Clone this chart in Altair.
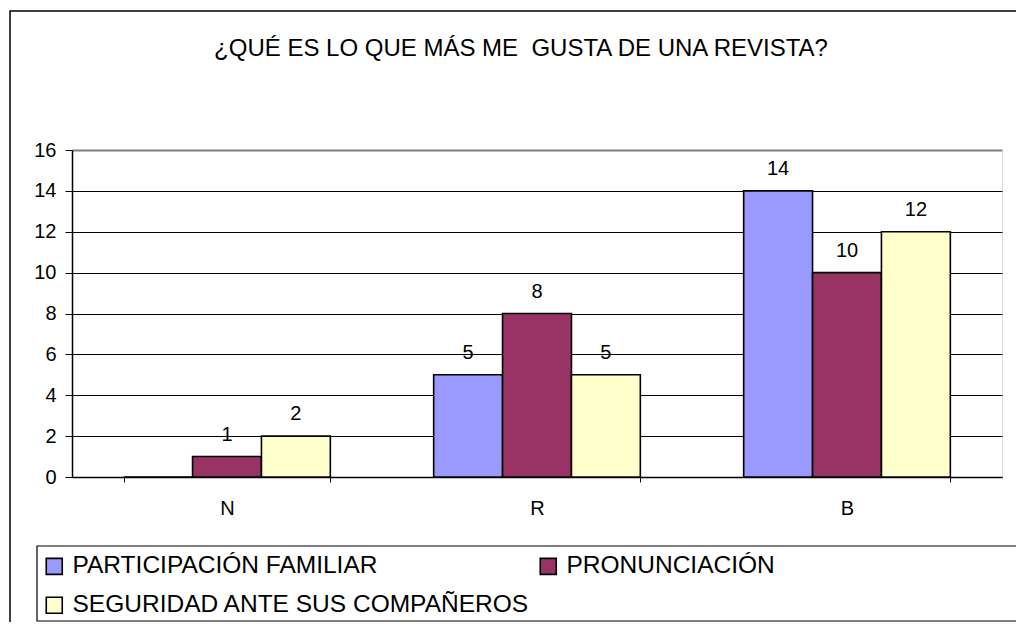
import altair as alt
import pandas as pd

categories = ["N", "R", "B"]
series = ["PARTICIPACIÓN FAMILIAR", "PRONUNCIACIÓN", "SEGURIDAD ANTE SUS COMPAÑEROS"]
participacion = [0, 5, 14]
pronunciacion = [1, 8, 10]
seguridad = [2, 5, 12]
colors = ["#9999FF", "#993366", "#FFFFCC"]
title_text = "¿QUÉ ES LO QUE MÁS ME \u00a0GUSTA DE UNA REVISTA?"

rows = []
for i, c in enumerate(categories):
    for s, vals in zip(series, [participacion, pronunciacion, seguridad]):
        rows.append({"cat": c, "serie": s, "valor": vals[i]})
df = pd.DataFrame(rows)

FONT = "Liberation Sans"
W, H = 930, 327

x_enc = alt.X("cat:N", sort=categories,
              scale=alt.Scale(paddingInner=1/3, paddingOuter=1/6),
              axis=alt.Axis(title=None, labelFontSize=20, labelFont=FONT, labelColor="black",
                            labelAngle=0, tickBand="extent", tickSize=5, tickColor="black",
                            domainColor="black", domainWidth=1.5, labelPadding=16, grid=False))
xo_enc = alt.XOffset("serie:N", sort=series, scale=alt.Scale(paddingInner=0, paddingOuter=0))
y_enc = alt.Y("valor:Q", scale=alt.Scale(domain=[0, 16], nice=False),
              axis=alt.Axis(title=None, values=list(range(0, 17, 2)), labelFontSize=20,
                            labelFont=FONT, labelColor="black", tickSize=7, tickColor="black",
                            domainColor="black", domainWidth=1.5, labelPadding=9,
                            gridColor={"condition": {"test": "datum.value >= 16", "value": "#808080"}, "value": "black"},
                            gridWidth={"condition": {"test": "datum.value >= 16", "value": 2}, "value": 1}))

bars = alt.Chart(df).mark_bar(stroke="black", strokeWidth=1.6, opacity=1).encode(
    x=x_enc, xOffset=xo_enc, y=y_enc,
    color=alt.Color("serie:N", sort=series, scale=alt.Scale(domain=series, range=colors),
                    legend=alt.Legend(title=None, orient="none", legendX=-30, legendY=404,
                                      direction="horizontal", columns=2, columnPadding=6,
                                      rowPadding=14, padding=0, labelFontSize=24.5, labelFont=FONT,
                                      labelColor="black", labelLimit=0, labelOffset=6,
                                      symbolType="square", symbolSize=256,
                                      symbolStrokeColor="black", symbolStrokeWidth=1.6,
                                      symbolOpacity=1))
)

labels = alt.Chart(df).transform_filter("datum.valor > 0").mark_text(
    fontSize=20, font=FONT, color="black", baseline="alphabetic", dy=-16
).encode(x=alt.X("cat:N", sort=categories), xOffset=alt.XOffset("serie:N", sort=series),
         y="valor:Q", text="valor:Q")

one = pd.DataFrame({"k": [0]})
frame = alt.Chart(one).mark_rect(fill=None, stroke="black", strokeWidth=1.5).encode(
    x=alt.value(-62), x2=alt.value(1200), y=alt.value(-139), y2=alt.value(700))
legend_box = alt.Chart(one).mark_rect(fill=None, stroke="black", strokeWidth=1.2).encode(
    x=alt.value(-35), x2=alt.value(1200), y=alt.value(396), y2=alt.value(471))
title = alt.Chart(one).mark_text(text=title_text, fontSize=24, font=FONT, color="black",
                                 align="center", baseline="alphabetic").encode(
    x=alt.value(449), y=alt.value(-94))

chart = alt.layer(frame, legend_box, title, bars, labels).resolve_scale(x="shared").properties(
    width=W, height=H,
    autosize=alt.AutoSizeParams(type="none"),
    padding={"left": 64, "top": 142, "right": 14, "bottom": 145},
).configure_view(stroke="#808080", strokeWidth=2).configure(background="white")

chart.save("out.html", embed_options={"renderer": "svg", "actions": False})
